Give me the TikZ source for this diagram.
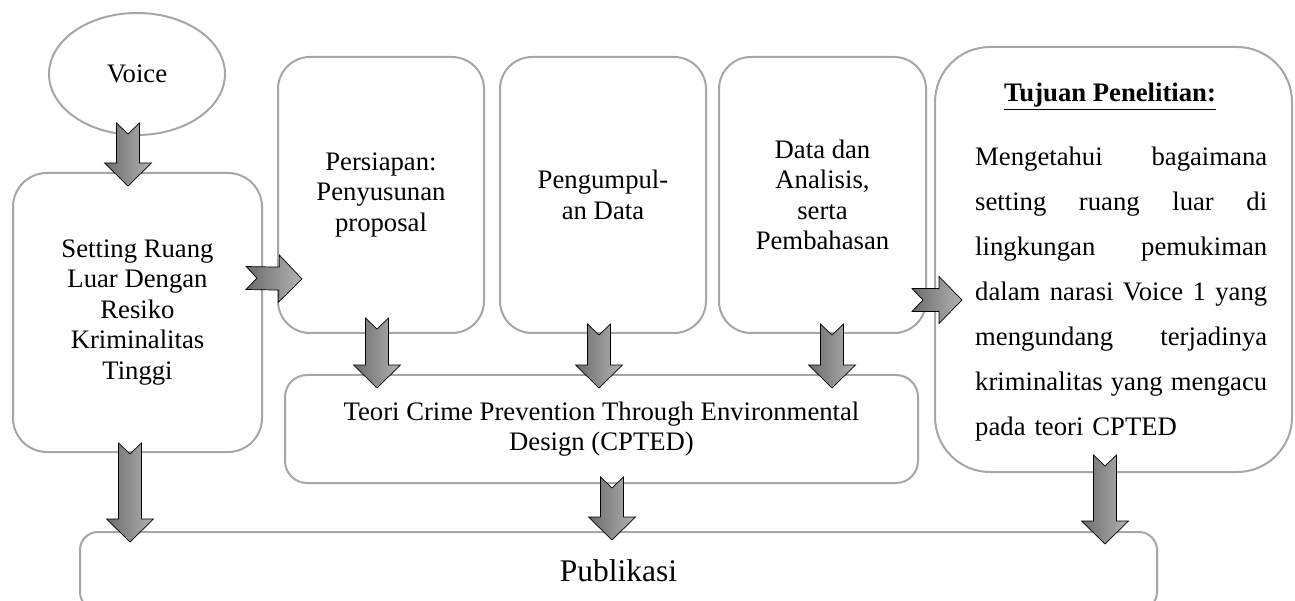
\documentclass[tikz,border=0pt]{standalone}
\usepackage{fontspec}
\setmainfont{Liberation Serif}
\usetikzlibrary{calc, positioning, shapes.geometric}

\definecolor{boxgray}{HTML}{A6A6A6}

\tikzset{
  stagebox/.style={draw=boxgray, line width=2pt, rounded corners=32pt, align=center,
    inner sep=0pt, font=\fontsize{26.7}{30.5}\selectfont},
  % notched block arrow, shaft 23pt wide, head 47pt wide and 23pt long
  blockarrow/.style={draw=black, line width=0.7pt, left color=black!58, right color=black!30,
    to path={
      ($(\tikztostart)!11.5pt!90:(\tikztotarget)$)
      -- ($(\tikztotarget)!25.71pt!-26.57:(\tikztostart)$)
      -- ($(\tikztotarget)!32.88pt!-45.61:(\tikztostart)$)
      -- (\tikztotarget)
      -- ($(\tikztotarget)!32.88pt!45.61:(\tikztostart)$)
      -- ($(\tikztotarget)!25.71pt!26.57:(\tikztostart)$)
      -- ($(\tikztostart)!11.5pt!-90:(\tikztotarget)$)
      -- ($(\tikztostart)!11pt!(\tikztotarget)$)
      -- cycle}}
}

\begin{document}
\begin{tikzpicture}[x=1pt, y=1pt]
  \clip (0,0) rectangle (1295,600);

  % start: voice and the problem
  \node[ellipse, draw=boxgray, line width=2pt, minimum width=176pt, minimum height=122pt,
    font=\fontsize{26.7}{30.5}\selectfont] (voice) at (137,526) {Voice};
  \node[stagebox, rounded corners=34pt, minimum width=249pt, minimum height=279pt] (setting)
    at (137.5,287.5) {Setting Ruang\\ Luar Dengan\\ Resiko\\ Kriminalitas\\ Tinggi};

  % research stages
  \node[stagebox, minimum width=206pt, minimum height=276pt] (prep) at (381,405)
    {Persiapan:\\ Penyusunan\\ proposal};
  \node[stagebox, minimum width=206pt, minimum height=276pt, right=14pt of prep] (collect)
    {Pengumpul-\\ an Data};
  \node[stagebox, minimum width=207pt, minimum height=276pt, right=11pt of collect] (analysis)
    {Data dan\\ Analisis,\\ serta\\ Pembahasan};
  \node[stagebox, rounded corners=22pt, minimum width=633pt, minimum height=108pt] (theory)
    at (601.5,171) {Teori Crime Prevention Through Environmental\\ Design (CPTED)};

  % goal box
  \node[stagebox, rounded corners=55pt, minimum width=357pt, minimum height=425pt] (goal)
    at (1113.5,340.5) {};
  \node[anchor=base, inner sep=0pt, font=\fontsize{26.7}{30.5}\selectfont] (goaltitle)
    at (1110,498) {\underline{\textbf{Tujuan Penelitian:}}};
  \node[anchor=north west, inner sep=0pt, text width=292pt, align=left,
    font=\fontsize{26.7}{45}\selectfont] (goaltext) at (975,453.2)
    {Mengetahui\hfill bagaimana\\
     setting\hfill ruang\hfill luar\hfill di\\
     lingkungan\hfill pemukiman\\
     dalam\hfill narasi\hfill Voice\hfill 1\hfill yang\\
     mengundang\hfill terjadinya\\
     kriminalitas\hfill yang\hfill mengacu\\
     pada teori CPTED};

  % output
  \node[stagebox, rounded corners=18pt, minimum width=1077pt, minimum height=78pt,
    font=\fontsize{31.5}{36}\selectfont] (publish) at (618.5,29) {Publikasi};

  % block arrows
  \draw[blockarrow] ($(voice.south)+(-9,13)$) to ($(setting.north)+(-9.5,-14)$);
  \draw[blockarrow] ($(setting.east)+(-17,34.5)$) to ($(prep.south west)+(25,55)$);
  \draw[blockarrow] ($(prep.south)+(-4,16)$) to ($(prep.south |- theory.north)+(-4,-14)$);
  \draw[blockarrow] ($(collect.south)+(-4,10)$) to ($(collect.south |- theory.north)+(-4,-14)$);
  \draw[blockarrow] ($(analysis.south)+(9.5,10)$) to ($(analysis.south |- theory.north)+(9.5,-14)$);
  \draw[blockarrow] ($(analysis.east)+(-15,-105)$) to ($(goal.west)+(28,-40.5)$);
  \draw[blockarrow] ($(setting.south)+(-7.5,10)$) to ($(setting.south |- publish.north)+(-7.5,-11)$);
  \draw[blockarrow] ($(theory.south)+(10.5,7)$) to ($(theory.south |- publish.north)+(10.5,-9)$);
  \draw[blockarrow] ($(goal.south)+(-8.5,18)$) to ($(goal.south |- publish.north)+(-8.5,-13)$);
\end{tikzpicture}
\end{document}
